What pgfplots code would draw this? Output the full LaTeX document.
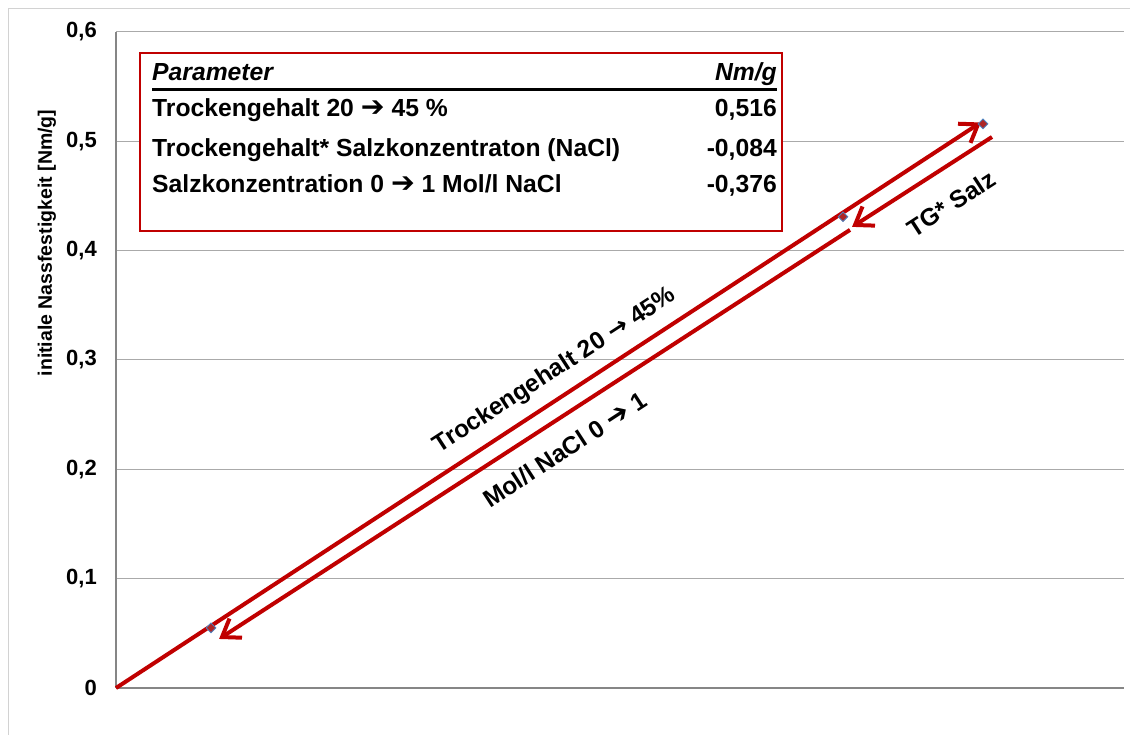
\documentclass[border=0pt]{standalone}
\usepackage{fontspec}
\setmainfont{Liberation Sans}
\newfontfamily\djv{DejaVu Sans}
\usepackage{pgfplots}
\pgfplotsset{compat=1.18}
\definecolor{rl}{RGB}{192,0,0}
\definecolor{gridc}{RGB}{170,170,170}
\definecolor{axc}{RGB}{134,134,134}
\definecolor{mkb}{RGB}{79,129,189}
\newcommand{\harr}{{\djv\scalebox{1.15}{➔}}}
\begin{document}
\begin{tikzpicture}[x=1pt,y=1pt]
\useasboundingbox (0,0) rectangle (1130,734);
\draw[gray!35, line width=1pt] (8,-5) -- (8,725) -- (1140,725);
\begin{axis}[at={(116pt,46pt)}, anchor=south west, scale only axis,
  width=1008pt, height=656pt,
  xmin=116, xmax=1124, ymin=0, ymax=0.6,
  axis x line=bottom, axis y line=left,
  axis line style={axc, line width=1.3pt, -},
  xtick=\empty, ytick={0,0.1,0.2,0.3,0.4,0.5,0.6},
  ymajorgrids, grid style={gridc, line width=1pt},
  major tick length=0pt,
  /pgf/number format/assume math mode=true,
  /pgf/number format/use comma, /pgf/number format/fixed,
  /pgf/number format/precision=1,
  yticklabel style={font=\fontsize{22}{24}\selectfont\bfseries, anchor=east, inner sep=0pt, xshift=-19pt},
  clip=false,
  ln/.style={rl, line width=4pt, line join=miter, miter limit=4}]
% shafts
\addplot[ln] coordinates {(116,0) (977,0.5150)};
\addplot[ln] coordinates {(992,0.504) (856,0.4240)};
\addplot[ln] coordinates {(850,0.419) (223,0.0472)};
% arrow heads (open chevrons)
\addplot[ln] coordinates {(958.0,0.5161) (978,0.5155) (970.5,0.4986)};
\addplot[ln] coordinates {(862.5,0.4404) (855,0.4235) (875.0,0.4229)};
\addplot[ln] coordinates {(229.5,0.0635) (222,0.0466) (242.0,0.0460)};
\addplot[only marks, mark=square*, mark size=3.4pt,
  mark options={rotate=45, fill=rl!70!gray, draw=mkb, line width=0.9pt}]
  coordinates {(211,0.055) (843,0.431) (983,0.516)};
\node[rotate=33, font=\fontsize{24.5}{26}\selectfont\bfseries] at (axis cs:555,0.290)
  {Trockengehalt 20 {\djv\bfseries →} 45\%};
\node[rotate=33, font=\fontsize{24.5}{26}\selectfont\bfseries] at (axis cs:565,0.218)
  {Mol/l NaCl 0 \harr\ 1};
\node[rotate=33, font=\fontsize{24.5}{26}\selectfont\bfseries] at (axis cs:951,0.443)
  {TG* Salz};
\end{axis}
\node[rotate=90, font=\fontsize{19.5}{21}\selectfont\bfseries] at (47,491)
  {initiale Nassfestigkeit [Nm/g]};
% parameter box
\fill[white] (140,681) rectangle (782,503);
\draw[rl, line width=2pt] (140,681) rectangle (782,503);
\draw[black, line width=3pt] (152,644) -- (777,644);
\begin{scope}[every node/.style={font=\fontsize{24.7}{26}\selectfont\bfseries, inner sep=0pt}]
\node[anchor=base west, font=\fontsize{24.7}{26}\selectfont\bfseries\itshape] at (152,653) {Parameter};
\node[anchor=base east, font=\fontsize{24.7}{26}\selectfont\bfseries\itshape] at (777,653) {Nm/g};
\node[anchor=base west] at (152,617) {Trockengehalt 20 \harr\ 45 \%};
\node[anchor=base east] at (777,617) {0,516};
\node[anchor=base west] at (152,577) {Trockengehalt* Salzkonzentraton (NaCl)};
\node[anchor=base east] at (777,577) {-0,084};
\node[anchor=base west] at (152,541) {Salzkonzentration 0 \harr\ 1 Mol/l NaCl};
\node[anchor=base east] at (777,541) {-0,376};
\end{scope}
\end{tikzpicture}
\end{document}
